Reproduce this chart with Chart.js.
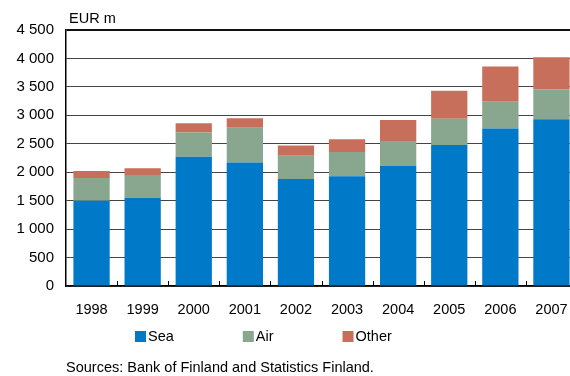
<!DOCTYPE html>
<html>
<head>
<meta charset="utf-8">
<script src="https://cdn.jsdelivr.net/npm/chart.js"></script>
<style>
  html, body { margin: 0; padding: 0; background: #fff; overflow: hidden; }
  #wrap { width: 570px; height: 376px; overflow: hidden; }
  #chart { display: block; }
</style>
</head>
<body>
<div id="wrap"><canvas id="chart" width="577" height="376"></canvas></div>

<script>
  const years = ['1998', '1999', '2000', '2001', '2002', '2003', '2004', '2005', '2006', '2007'];
  const sea   = [1500, 1550, 2270, 2170, 1880, 1930, 2110, 2480, 2770, 2930];
  const air   = [400, 400, 430, 610, 410, 425, 440, 460, 470, 530];
  const other = [120, 120, 160, 170, 180, 225, 370, 490, 620, 560];

  const unitLabel = 'EUR m';
  const sourceNote = 'Sources: Bank of Finland and Statistics Finland.';

  const FONT = 'Arial, "Liberation Sans", sans-serif';

  const seriesColors = {
    Sea: '#0079c8',
    Air: '#89a68f',
    Other: '#c86f5b'
  };

  // thousands with a space, e.g. 4 500
  const fmt = (v) => String(v).replace(/\B(?=(\d{3})+(?!\d))/g, ' ');

  // unit label, small category ticks, legend and source line
  const extras = {
    id: 'extras',
    afterDraw: (chart) => {
      const ctx = chart.ctx;
      const x = chart.scales.x;
      const area = chart.chartArea;

      ctx.save();
      ctx.strokeStyle = '#000';
      ctx.lineWidth = 1;
      for (let i = 1; i < years.length; i++) {
        const px = Math.round((x.getPixelForTick(i - 1) + x.getPixelForTick(i)) / 2) + 0.5;
        ctx.beginPath();
        ctx.moveTo(px, area.bottom);
        ctx.lineTo(px, area.bottom - 5);
        ctx.stroke();
      }

      ctx.fillStyle = '#000';
      ctx.font = '14.5px ' + FONT;
      ctx.textBaseline = 'middle';
      ctx.textAlign = 'left';
      ctx.fillText(unitLabel, 69, 19);

      // legend
      let lx = 135;
      chart.data.datasets.forEach(ds => {
        ctx.fillStyle = ds.backgroundColor;
        ctx.fillRect(lx, 331, 11, 11);
        ctx.fillStyle = '#000';
        ctx.fillText(ds.label, lx + 13, 337);
        lx += 13 + ctx.measureText(ds.label).width + 69;
      });

      ctx.fillText(sourceNote, 66, 368);
      ctx.restore();
    }
  };

  const data = {
    labels: years,
    datasets: [{
      label: 'Sea',
      data: sea,
      backgroundColor: seriesColors.Sea
    }, {
      label: 'Air',
      data: air,
      backgroundColor: seriesColors.Air
    }, {
      label: 'Other',
      data: other,
      backgroundColor: seriesColors.Other
    }]
  };

  const config = {
    type: 'bar',
    data: data,
    plugins: [extras],
    options: {
      responsive: false,
      animation: false,
      layout: { padding: { left: 0, right: 0, top: 30, bottom: 50 } },
      datasets: {
        bar: { categoryPercentage: 1, barPercentage: 0.71, borderWidth: 0 }
      },
      scales: {
        x: {
          stacked: true,
          grid: { display: false },
          border: { display: true, color: '#000', width: 1.5 },
          ticks: { color: '#000', font: { size: 14.5, family: FONT }, padding: 7, maxRotation: 0 },
          afterFit: (scale) => { scale.height = 40; }
        },
        y: {
          stacked: true,
          min: 0,
          max: 4500,
          grid: {
            color: (c) => c.tick && c.tick.value === 4500 ? '#111' : '#444',
            lineWidth: (c) => c.tick && c.tick.value === 4500 ? 2 : 1,
            drawTicks: false
          },
          border: { display: true, color: '#000', width: 1.5 },
          ticks: {
            stepSize: 500,
            color: '#000',
            padding: 12,
            font: { size: 15, family: FONT },
            callback: (v) => fmt(v)
          },
          afterFit: (scale) => { scale.width = 66; }
        }
      },
      plugins: {
        legend: { display: false },
        tooltip: { enabled: false }
      }
    }
  };

  const myChart = new Chart(document.getElementById('chart'), config);
</script>
</body>
</html>
